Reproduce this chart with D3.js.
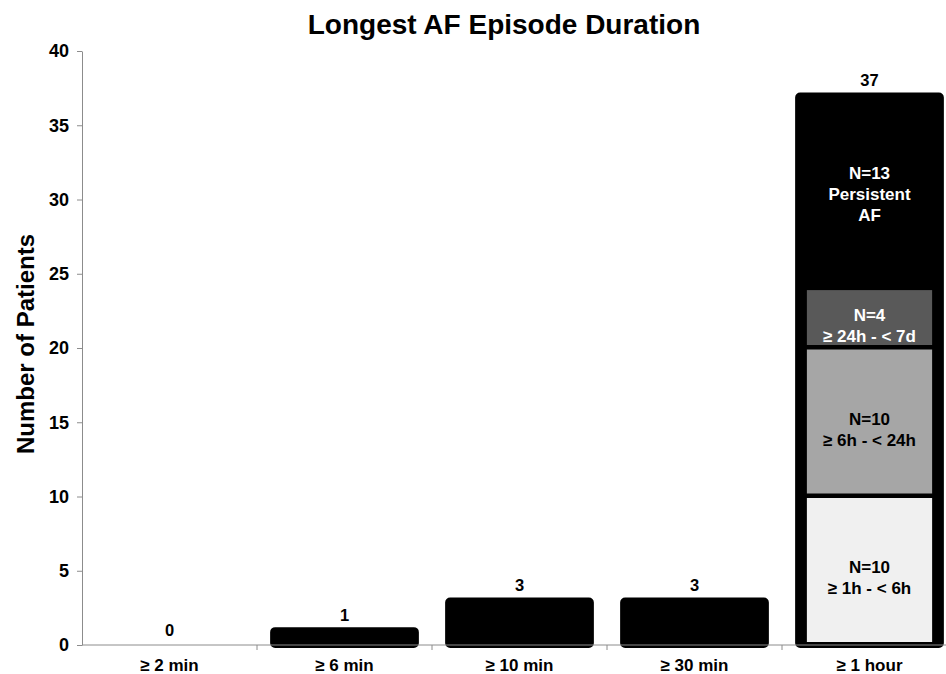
<!DOCTYPE html>
<html>
<head>
<meta charset="utf-8">
<script src="https://cdn.jsdelivr.net/npm/d3@7"></script>
<style>
  html, body { margin: 0; padding: 0; background: #fff; }
  svg { display: block; font-family: "Liberation Sans", Arial, sans-serif; }
</style>
</head>
<body>
<svg id="chart" width="946" height="674"></svg>
<script>
// Longest AF episode duration per patient
const categories = ["\u2265 2 min", "\u2265 6 min", "\u2265 10 min", "\u2265 30 min", "\u2265 1 hour"];
const patients = [0, 1, 3, 3, 37];

// Breakdown of the "\u2265 1 hour" group, bottom to top
const subgroupCounts = [10, 10, 4, 13];
const subgroupLines = [
  ["N=10", "\u2265 1h - < 6h"],
  ["N=10", "\u2265 6h - < 24h"],
  ["N=4", "\u2265 24h - < 7d"],
  ["N=13", "Persistent", "AF"]
];
const subgroupFills = ["#f0f0f0", "#a6a6a6", "#595959", "#000000"];
const subgroupText = ["#000", "#000", "#fff", "#fff"];

const yTicks = [0, 5, 10, 15, 20, 25, 30, 35, 40];

const svg = d3.select("#chart");
const plotLeft = 82, plotRight = 957, plotTop = 51, plotBottom = 645;

const x = d3.scaleBand().domain(categories).range([plotLeft, plotRight]).padding(0);
const y = d3.scaleLinear().domain([0, 40]).range([plotBottom, plotTop]);
const bw = x.bandwidth();

// Title
svg.append("text")
  .attr("x", 504).attr("y", 34)
  .attr("text-anchor", "middle")
  .attr("font-size", 28).attr("font-weight", "bold")
  .text("Longest AF Episode Duration");

// Y axis title
svg.append("text")
  .attr("transform", `translate(34,344) rotate(-90)`)
  .attr("text-anchor", "middle")
  .attr("font-size", 24).attr("font-weight", "bold")
  .text("Number of Patients");

// Y axis
const yAxis = svg.append("g")
  .attr("transform", `translate(${plotLeft},0)`)
  .call(d3.axisLeft(y).tickValues(yTicks).tickSize(5).tickPadding(8).tickSizeOuter(0));
yAxis.select(".domain").attr("stroke", "#8c8c8c");
yAxis.selectAll(".tick line").attr("stroke", "#8c8c8c");
yAxis.selectAll(".tick text")
  .attr("font-size", 18).attr("font-weight", "bold")
  .attr("font-family", "Liberation Sans, Arial, sans-serif").attr("fill", "#000");

// Bars
const outerStroke = 6;
const barW = bw * 0.85;
svg.append("g").selectAll("rect")
  .data(categories.map((c, i) => ({ c, v: patients[i] })).filter(d => d.v > 0))
  .join("rect")
  .attr("x", d => x(d.c) + (bw - barW) / 2 + outerStroke / 2)
  .attr("width", barW - outerStroke)
  .attr("y", d => y(d.v))
  .attr("height", d => y(0) - y(d.v))
  .attr("rx", 2)
  .attr("fill", "#000")
  .attr("stroke", "#000")
  .attr("stroke-width", outerStroke)
  .attr("stroke-linejoin", "round");

// Stacked breakdown inside the last bar
const lastCat = categories[categories.length - 1];
const segW = bw * 0.75;
const segX = x(lastCat) + (bw - segW) / 2;
let acc = 0;
const segments = subgroupCounts.map((n, i) => {
  const s = { y0: acc, y1: acc + n, i };
  acc += n;
  return s;
});
const segStroke = 3;
svg.append("g").selectAll("rect")
  .data(segments)
  .join("rect")
  .attr("x", segX + segStroke / 2)
  .attr("width", segW - segStroke)
  .attr("y", d => y(d.y1))
  .attr("height", d => y(d.y0) - y(d.y1) - segStroke / 2)
  .attr("fill", d => subgroupFills[d.i])
  .attr("stroke", "#000")
  .attr("stroke-width", segStroke);

// Segment labels
const segLabels = svg.append("g");
segments.forEach(s => {
  const lines = subgroupLines[s.i];
  const cy = (y(s.y0) + y(s.y1)) / 2 + (lines.length > 2 ? 2 : 7);
  const lh = 21;
  const t = segLabels.append("text")
    .attr("text-anchor", "middle")
    .attr("font-size", 17).attr("font-weight", "bold")
    .attr("fill", subgroupText[s.i]);
  lines.forEach((ln, k) => {
    t.append("tspan")
      .attr("x", x(lastCat) + bw / 2)
      .attr("y", cy + (k - (lines.length - 1) / 2) * lh)
      .attr("dy", "0.35em")
      .text(ln);
  });
});

// X axis line and boundary ticks
const xAxis = svg.append("g");
xAxis.append("line")
  .attr("x1", plotLeft).attr("x2", plotRight)
  .attr("y1", y(0)).attr("y2", y(0))
  .attr("stroke", "#8c8c8c");
xAxis.selectAll("line.tk")
  .data(categories.slice(1))
  .join("line")
  .attr("class", "tk")
  .attr("x1", d => x(d)).attr("x2", d => x(d))
  .attr("y1", y(0)).attr("y2", y(0) + 5)
  .attr("stroke", "#8c8c8c");
xAxis.selectAll("text")
  .data(categories)
  .join("text")
  .attr("x", d => x(d) + bw / 2)
  .attr("y", 671)
  .attr("text-anchor", "middle")
  .attr("font-size", 17).attr("font-weight", "bold")
  .text(d => d);

// Value labels
svg.append("g").selectAll("text")
  .data(categories.map((c, i) => ({ c, v: patients[i] })))
  .join("text")
  .attr("x", d => x(d.c) + bw / 2)
  .attr("y", d => y(d.v) - 9.5)
  .attr("text-anchor", "middle")
  .attr("font-size", 16.5).attr("font-weight", "bold")
  .text(d => d.v);
</script>
</body>
</html>
